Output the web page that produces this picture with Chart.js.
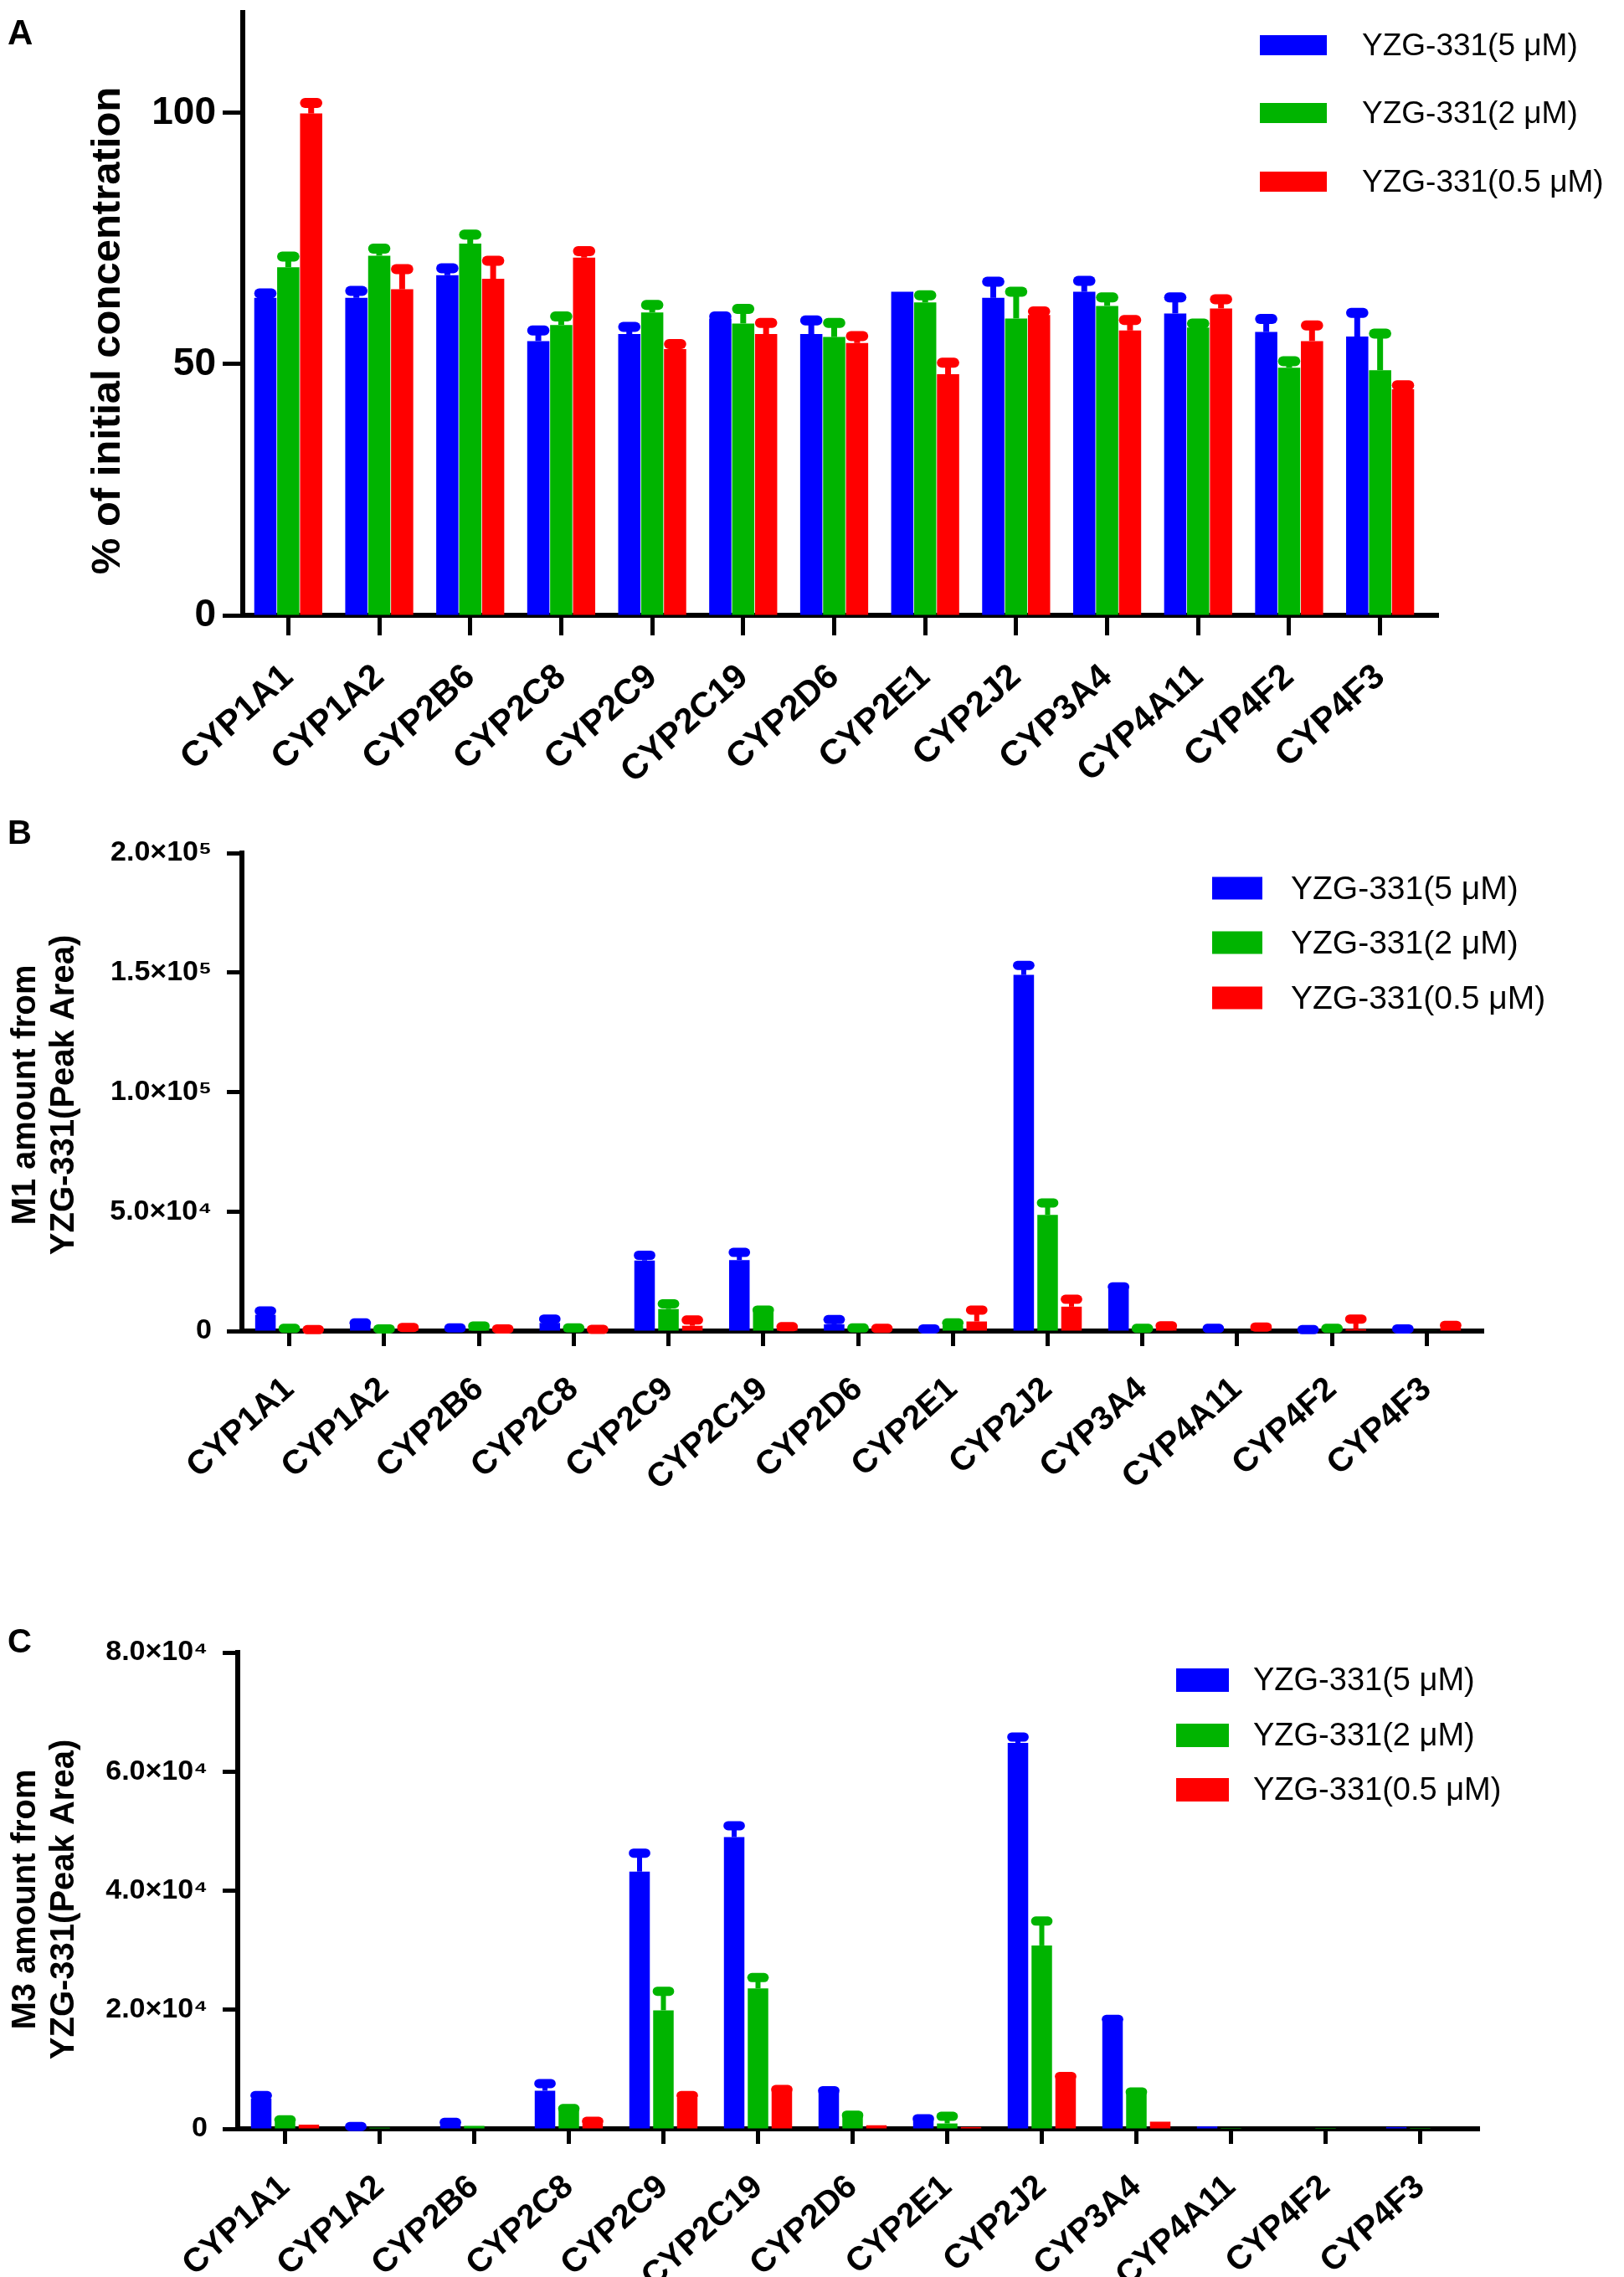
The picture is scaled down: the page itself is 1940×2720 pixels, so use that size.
<!DOCTYPE html>
<html>
<head>
<meta charset="utf-8">
<script src="https://cdn.jsdelivr.net/npm/chart.js@4.4.1/dist/chart.umd.min.js"></script>
<style>
  body { margin: 0; background: #fff; width: 1940px; height: 2720px; position: relative; overflow: hidden; }
  canvas { position: absolute; left: 0; }
</style>
</head>
<body>
<canvas id="chartA" width="1940" height="960" style="top:0px"></canvas>
<canvas id="chartB" width="1940" height="900" style="top:960px"></canvas>
<canvas id="chartC" width="1940" height="860" style="top:1860px"></canvas>
<script>
// Données
const categories = ['CYP1A1', 'CYP1A2', 'CYP2B6', 'CYP2C8', 'CYP2C9', 'CYP2C19', 'CYP2D6',
                    'CYP2E1', 'CYP2J2', 'CYP3A4', 'CYP4A11', 'CYP4F2', 'CYP4F3'];
const doseLabels = ['YZG-331(5 μM)', 'YZG-331(2 μM)', 'YZG-331(0.5 μM)'];
const doseColors = ['#0000ff', '#00b400', '#ff0000'];

// A : % de la concentration initiale
const a5    = [63.2, 63.2, 67.7, 54.6, 56.0, 59.1, 56.0, 64.4, 63.2, 64.4, 60.1, 56.4, 55.5];
const a5Sd  = [0.9, 1.4, 1.4, 2.1, 1.4, 0.4, 2.7, 0, 3.2, 2.2, 3.2, 2.6, 4.7];
const a2    = [69.3, 71.6, 74.0, 57.8, 60.3, 58.1, 55.4, 62.3, 59.1, 61.6, 57.3, 49.3, 48.8];
const a2Sd  = [2.1, 1.4, 1.8, 1.7, 1.5, 2.9, 2.8, 1.4, 5.3, 1.7, 0.8, 1.3, 7.3];
const a05   = [99.9, 64.9, 67.0, 71.2, 53.0, 56.0, 54.2, 48.0, 59.8, 56.7, 61.1, 54.6, 45.0];
const a05Sd = [2.1, 4.0, 3.6, 1.3, 1.0, 2.2, 1.4, 2.3, 0.7, 2.1, 1.8, 3.1, 0.8];
const yTicksA = [0, 50, 100];

// B : M1 (aire du pic)
const b5    = [6800, 2800, 1000, 3400, 29500, 29700, 2800, 600, 149000, 17900, 800, 400, 600];
const b5Sd  = [1600, 600, 300, 1600, 2200, 3200, 2000, 300, 4000, 600, 300, 200, 300];
const b2    = [800, 600, 1800, 1000, 9200, 8000, 1000, 2400, 48600, 800, 200, 800, 200];
const b2Sd  = [300, 300, 300, 300, 2200, 800, 300, 1000, 5000, 300, 0, 300, 0];
const b05   = [300, 1200, 600, 400, 2200, 1200, 800, 4000, 10200, 1400, 1400, 800, 1600];
const b05Sd = [300, 300, 300, 300, 2400, 600, 300, 4800, 3100, 800, 300, 4200, 800];
const yTicksB = [0, 50000, 100000, 150000, 200000];

// C : M3 (aire du pic)
const c5    = [5100, 300, 900, 6400, 43200, 49000, 6100, 1500, 64800, 18100, 400, 0, 300];
const c5Sd  = [500, 100, 200, 1200, 3100, 1900, 300, 200, 1000, 300, 0, 0, 0];
const c2    = [1200, 200, 500, 3100, 19900, 23600, 2100, 900, 30800, 5900, 150, 150, 150];
const c2Sd  = [300, 0, 0, 300, 3200, 1800, 200, 1200, 4100, 300, 0, 0, 0];
const c05   = [700, 0, 0, 900, 5200, 6400, 600, 300, 8400, 1200, 0, 0, 0];
const c05Sd = [0, 0, 0, 350, 400, 200, 0, 0, 400, 0, 0, 0, 0];
const yTicksC = [0, 20000, 40000, 60000, 80000];

const FONT = '"Liberation Sans", Arial, sans-serif';
const SUP = { 4: '⁴', 5: '⁵' };

// Étiquette scientifique : 2.0×10⁵
function sciLabel(v) {
    if (v === 0) return '0';
    const e = Math.floor(Math.log10(v));
    return (v / Math.pow(10, e)).toFixed(1) + '×10' + SUP[e];
}

function makeDatasets(values, sds, barPct, catPct) {
    return values.map((vals, i) => ({
        label: doseLabels[i],
        data: vals,
        sd: sds[i],
        backgroundColor: doseColors[i],
        borderWidth: 0,
        barPercentage: barPct,
        categoryPercentage: catPct
    }));
}

// Barres d'erreur, lettre du panneau, titre de l'axe et légende
function panelDecor(p) {
    return {
        id: 'decor' + p.letter,
        afterDatasetsDraw(chart) {
            const ctx = chart.ctx;
            const yScale = chart.scales.y;
            chart.data.datasets.forEach((ds, i) => {
                chart.getDatasetMeta(i).data.forEach((bar, j) => {
                    const sd = ds.sd[j];
                    if (!sd) return;
                    const top = yScale.getPixelForValue(ds.data[j] + sd);
                    ctx.save();
                    ctx.strokeStyle = ds.backgroundColor;
                    ctx.lineWidth = p.stem;
                    ctx.beginPath();
                    ctx.moveTo(bar.x, bar.y);
                    ctx.lineTo(bar.x, top);
                    ctx.stroke();
                    ctx.lineCap = 'round';
                    ctx.lineWidth = p.capH;
                    const hw = bar.width * p.capW / 2;
                    ctx.beginPath();
                    ctx.moveTo(bar.x - hw, top);
                    ctx.lineTo(bar.x + hw, top);
                    ctx.stroke();
                    ctx.restore();
                });
            });
        },
        afterDraw(chart) {
            const ctx = chart.ctx;
            const area = chart.chartArea;
            ctx.save();
            // prolongement de l'axe X au-delà de la dernière catégorie
            ctx.strokeStyle = '#000';
            ctx.lineWidth = 6;
            ctx.beginPath();
            ctx.moveTo(area.right - 2, area.bottom);
            ctx.lineTo(area.right + p.axisExt, area.bottom);
            ctx.stroke();

            ctx.fillStyle = '#000';
            // lettre
            ctx.font = 'bold ' + p.letterSize + 'px ' + FONT;
            ctx.textAlign = 'left';
            ctx.textBaseline = 'alphabetic';
            ctx.fillText(p.letter, 9, p.letterY);
            // titre de l'axe Y
            ctx.font = 'bold ' + p.titleSize + 'px ' + FONT;
            ctx.textAlign = 'center';
            p.titleLines.forEach((line, k) => {
                ctx.save();
                ctx.translate(p.titleX[k], p.titleY);
                ctx.rotate(-Math.PI / 2);
                ctx.fillText(line, 0, 0);
                ctx.restore();
            });
            // légende
            ctx.font = p.legFont + 'px ' + FONT;
            ctx.textAlign = 'left';
            ctx.textBaseline = 'middle';
            chart.data.datasets.forEach((ds, i) => {
                const cy = p.legY[i];
                ctx.fillStyle = ds.backgroundColor;
                ctx.fillRect(p.legX, cy - p.legH / 2, p.legW, p.legH);
                ctx.fillStyle = '#000';
                ctx.fillText(ds.label, p.legTextX, cy + 2);
            });
            ctx.restore();
        }
    };
}

function makeChart(id, cfg) {
    return new Chart(document.getElementById(id), {
        type: 'bar',
        data: {
            labels: categories,
            datasets: makeDatasets(cfg.values, cfg.sds, cfg.barPct, cfg.catPct)
        },
        options: {
            responsive: false,
            animation: false,
            devicePixelRatio: 1,
            layout: { padding: { top: cfg.padTop, right: cfg.padRight, left: 0, bottom: 0 } },
            plugins: { legend: { display: false }, tooltip: { enabled: false } },
            scales: {
                x: {
                    z: 1,
                    grid: { drawOnChartArea: false, offset: false, tickLength: cfg.tickLen, tickWidth: 5, tickColor: '#000' },
                    border: { color: '#000', width: 6 },
                    ticks: {
                        color: '#000',
                        autoSkip: false,
                        maxRotation: 42,
                        minRotation: 42,
                        padding: cfg.xPad,
                        font: { family: FONT, size: cfg.xFont, weight: 'bold' }
                    },
                    afterFit(s) {
                        s.height = cfg.xHeight;
                        s.paddingLeft = 0;
                        s.paddingRight = 0;
                    }
                },
                y: {
                    min: 0,
                    max: cfg.yMax,
                    afterBuildTicks(s) { s.ticks = cfg.yTicks.map(v => ({ value: v })); },
                    grid: { drawOnChartArea: false, tickLength: cfg.tickLen, tickWidth: 5, tickColor: '#000' },
                    border: { color: '#000', width: 6 },
                    ticks: {
                        color: '#000',
                        padding: cfg.yPad,
                        font: { family: FONT, size: cfg.yFont, weight: 'bold' },
                        callback: cfg.yLabel
                    },
                    afterFit(s) {
                        s.width = cfg.yWidth;
                        s.paddingTop = 0;
                        s.paddingBottom = 0;
                    }
                }
            }
        },
        plugins: [panelDecor(cfg.decor)]
    });
}

makeChart('chartA', {
    values: [a5, a2, a05], sds: [a5Sd, a2Sd, a05Sd],
    barPct: 0.97, catPct: 0.755,
    padTop: 15, padRight: 237, xHeight: 225, yWidth: 290,
    yMax: 120, yTicks: yTicksA, yFont: 46, yPad: 8, tickLen: 24, xPad: 25, xFont: 42,
    yLabel: v => String(v),
    decor: {
        letter: 'A', letterY: 53, letterSize: 42,
        titleLines: ['% of initial concentration'], titleX: [143], titleY: 395, titleSize: 49,
        legX: 1505, legW: 80, legH: 24, legY: [54, 135, 217], legTextX: 1627, legFont: 37,
        stem: 7, capH: 12, capW: 0.55, axisExt: 16
    }
});

makeChart('chartB', {
    values: [b5, b2, b05], sds: [b5Sd, b2Sd, b05Sd],
    barPct: 0.86, catPct: 0.756,
    padTop: 59, padRight: 179, xHeight: 270, yWidth: 289,
    yMax: 200000, yTicks: yTicksB, yFont: 34, yPad: 18, tickLen: 18, xPad: 28, xFont: 40,
    yLabel: sciLabel,
    decor: {
        letter: 'B', letterY: 48, letterSize: 40,
        titleLines: ['M1 amount from', 'YZG-331(Peak Area)'], titleX: [42, 88], titleY: 348, titleSize: 40,
        legX: 1448, legW: 60, legH: 27, legY: [101, 166, 232], legTextX: 1542, legFont: 39,
        stem: 6, capH: 11, capW: 0.6, axisExt: 12
    }
});

makeChart('chartC', {
    values: [c5, c2, c05], sds: [c5Sd, c2Sd, c05Sd],
    barPct: 0.86, catPct: 0.756,
    padTop: 114, padRight: 187, xHeight: 177, yWidth: 284,
    yMax: 80000, yTicks: yTicksC, yFont: 34, yPad: 18, tickLen: 18, xPad: 28, xFont: 40,
    yLabel: sciLabel,
    decor: {
        letter: 'C', letterY: 114, letterSize: 40,
        titleLines: ['M3 amount from', 'YZG-331(Peak Area)'], titleX: [42, 88], titleY: 409, titleSize: 40,
        legX: 1405, legW: 63, legH: 28, legY: [147, 213, 278], legTextX: 1497, legFont: 38,
        stem: 6, capH: 11, capW: 0.6, axisExt: 15
    }
});
</script>
</body>
</html>
